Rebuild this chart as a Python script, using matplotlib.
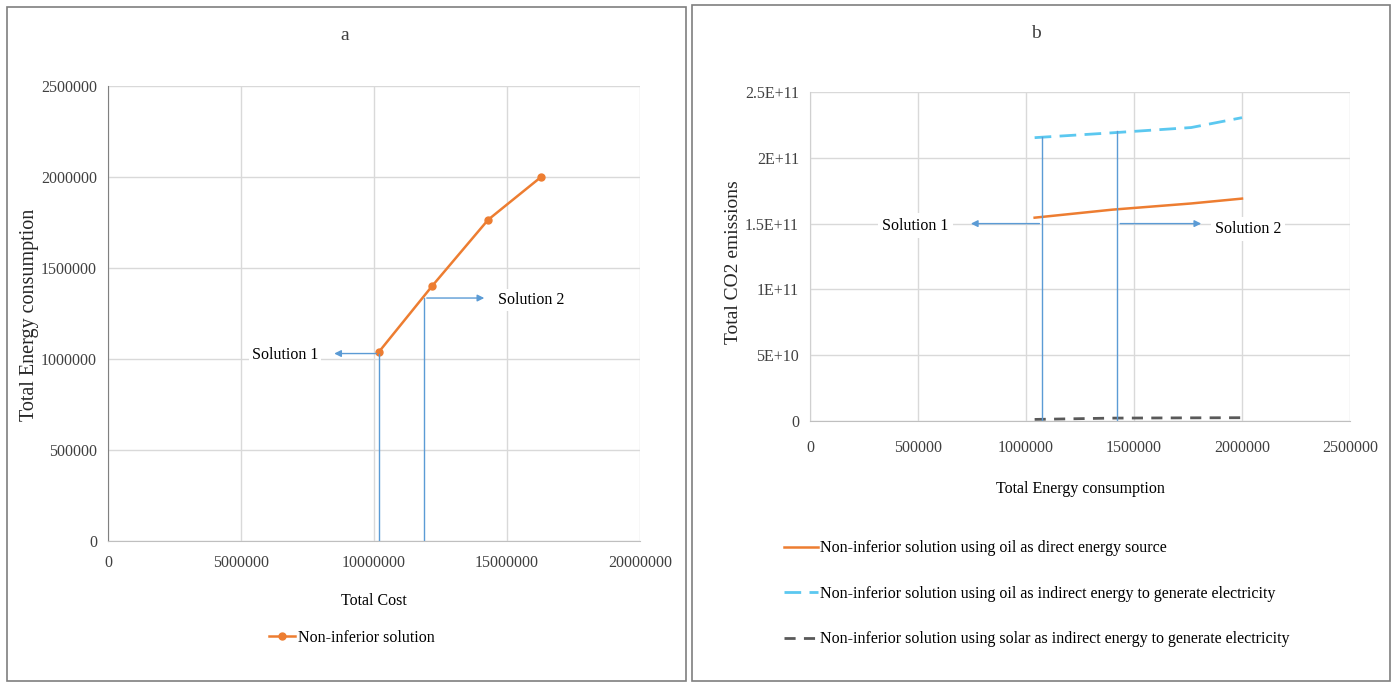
import matplotlib
matplotlib.use("Agg")
import matplotlib.pyplot as plt
from matplotlib.patches import Rectangle

plt.rcParams['font.family'] = ['Liberation Serif', 'DejaVu Serif']

# ---- data ----
total_cost = [10190000, 12180000, 14290000, 16280000]
energy_a = [1040000, 1400000, 1765000, 2000000]

energy_b = [1040000, 1400000, 1765000, 2000000]
co2_oil_direct = [1.545e11, 1.606e11, 1.653e11, 1.69e11]
co2_oil_indirect = [2.153e11, 2.19e11, 2.23e11, 2.305e11]
co2_solar = [1.2e9, 2.2e9, 2.4e9, 2.5e9]

a_xticks = [0, 5000000, 10000000, 15000000, 20000000]
a_yticks = [0, 500000, 1000000, 1500000, 2000000, 2500000]
b_xticks = [0, 500000, 1000000, 1500000, 2000000, 2500000]
b_yticks = [0, 5e10, 1e11, 1.5e11, 2e11, 2.5e11]
b_yticklabels = ['0', '5E+10', '1E+11', '1.5E+11', '2E+11', '2.5E+11']

# solution markers (x of vertical line, y of arrow / top, arrow end x)
a_sol1 = (10190000, 1030000, 8400000)
a_sol2 = (11880000, 1335000, 14250000)
b_sol1 = (1075000, 2.16e11, 732000)
b_sol2 = (1423000, 2.20e11, 1824000)
b_arrow_y = 1.5e11

ORANGE = '#ED7D31'
ARROW = '#5B9BD5'
LBLUE = '#5BC8F0'
DGRAY = '#595959'
GRID = '#d9d9d9'
FS = 11.5
YLFS = 14.5

W, H = 1396, 684
fig = plt.figure(figsize=(W / 100, H / 100), dpi=100)

# panel borders
fig.add_artist(Rectangle((7 / W, 1 - 681 / H), (686 - 7) / W, (681 - 7) / H,
                         transform=fig.transFigure, fill=False, edgecolor='#7f7f7f', lw=1.2))
fig.add_artist(Rectangle((692 / W, 1 - 681 / H), (1390 - 692) / W, (681 - 5) / H,
                         transform=fig.transFigure, fill=False, edgecolor='#7f7f7f', lw=1.2))


def style(ax, left_color):
    ax.grid(True, color=GRID, lw=1)
    ax.set_axisbelow(True)
    for s in ['top', 'right']:
        ax.spines[s].set_visible(False)
    ax.spines['left'].set_color(left_color)
    ax.spines['bottom'].set_color('#bfbfbf')
    ax.tick_params(length=0, labelsize=FS, colors='#404040', pad=8)


# ---- panel a ----
axa = fig.add_axes([108 / W, 1 - 541 / H, (640 - 108) / W, (541 - 86) / H])
style(axa, '#808080')
axa.tick_params(axis='x', pad=10)
axa.set_xlim(0, 20000000)
axa.set_ylim(0, 2500000)
axa.set_xticks(a_xticks)
axa.set_xticklabels([str(v) for v in a_xticks])
axa.set_yticks(a_yticks)
axa.set_yticklabels([str(v) for v in a_yticks])
axa.plot(total_cost, energy_a, color=ORANGE, lw=1.8, marker='o', ms=5,
         label='Non-inferior solution')
axa.set_xlabel('Total Cost', fontsize=FS, labelpad=16)
fig.text(30 / W, 1 - 315 / H, 'Total Energy consumption', fontsize=YLFS, rotation=90,
         ha='center', va='center', color='#262626')
fig.text(345 / W, 1 - 35 / H, 'a', fontsize=14, ha='center', va='center', color='#404040')

for (xv, yv, xe) in [a_sol1, a_sol2]:
    axa.plot([xv, xv], [0, yv], color=ARROW, lw=1)
    axa.annotate('', xy=(xe, yv), xytext=(xv, yv),
                 arrowprops=dict(arrowstyle='-|>', color=ARROW, lw=1, mutation_scale=10))
axa.text(a_sol1[2] - 500000, a_sol1[1] - 10000, 'Solution 1', fontsize=FS, ha='right', va='center',
         bbox=dict(facecolor='white', edgecolor='none', pad=2))
axa.text(a_sol2[2] + 400000, a_sol2[1] - 10000, 'Solution 2', fontsize=FS, ha='left', va='center',
         bbox=dict(facecolor='white', edgecolor='none', pad=2))

axa.legend(loc='center', bbox_to_anchor=(352 / W, 1 - 638 / H), bbox_transform=fig.transFigure,
           frameon=False, fontsize=FS, handlelength=1.6, handletextpad=0.2)

# ---- panel b ----
axb = fig.add_axes([810 / W, 1 - 421 / H, (1350 - 810) / W, (421 - 92) / H])
style(axb, '#d0d0d0')
axb.tick_params(axis='x', pad=14)
axb.set_xlim(0, 2500000)
axb.set_ylim(0, 2.5e11)
axb.set_xticks(b_xticks)
axb.set_xticklabels([str(v) for v in b_xticks])
axb.set_yticks(b_yticks)
axb.set_yticklabels(b_yticklabels)
l1, = axb.plot(energy_b, co2_oil_direct, color=ORANGE, lw=1.8,
               label='Non-inferior solution using oil as direct energy source')
l2, = axb.plot(energy_b, co2_oil_indirect, color=LBLUE, lw=2, dashes=(6, 3),
               label='Non-inferior solution using oil as indirect energy to generate electricity')
l3, = axb.plot(energy_b, co2_solar, color=DGRAY, lw=2, dashes=(4, 3),
               label='Non-inferior solution using solar as indirect energy to generate electricity')
axb.set_xlabel('Total Energy consumption', fontsize=FS, labelpad=18)
fig.text(733 / W, 1 - 262 / H, 'Total CO2 emissions', fontsize=YLFS - 0.5, rotation=90,
         ha='center', va='center', color='#262626')
fig.text(1036 / W, 1 - 33 / H, 'b', fontsize=14, ha='center', va='center', color='#404040')

for (xv, yv, _) in [b_sol1, b_sol2]:
    axb.plot([xv, xv], [0, yv], color=ARROW, lw=1)
axb.annotate('', xy=(b_sol1[2], b_arrow_y), xytext=(b_sol1[0], b_arrow_y),
             arrowprops=dict(arrowstyle='-|>', color=ARROW, lw=1, mutation_scale=10))
axb.annotate('', xy=(b_sol2[2], b_arrow_y), xytext=(b_sol2[0], b_arrow_y),
             arrowprops=dict(arrowstyle='-|>', color=ARROW, lw=1, mutation_scale=10))
axb.text(b_sol1[2] - 90000, b_arrow_y - 1.5e9, 'Solution 1', fontsize=FS, ha='right', va='center',
         bbox=dict(facecolor='white', edgecolor='none', pad=3))
axb.text(b_sol2[2] + 50000, b_arrow_y - 4e9, 'Solution 2', fontsize=FS, ha='left', va='center',
         bbox=dict(facecolor='white', edgecolor='none', pad=3))

fig.legend(handles=[l1, l2, l3], loc='upper left',
           bbox_to_anchor=(770 / W, 1 - 526 / H), bbox_transform=fig.transFigure,
           frameon=False, fontsize=FS, handlelength=2.1, handletextpad=0.15, labelspacing=1.85)

fig.savefig('out.png', dpi=100)
